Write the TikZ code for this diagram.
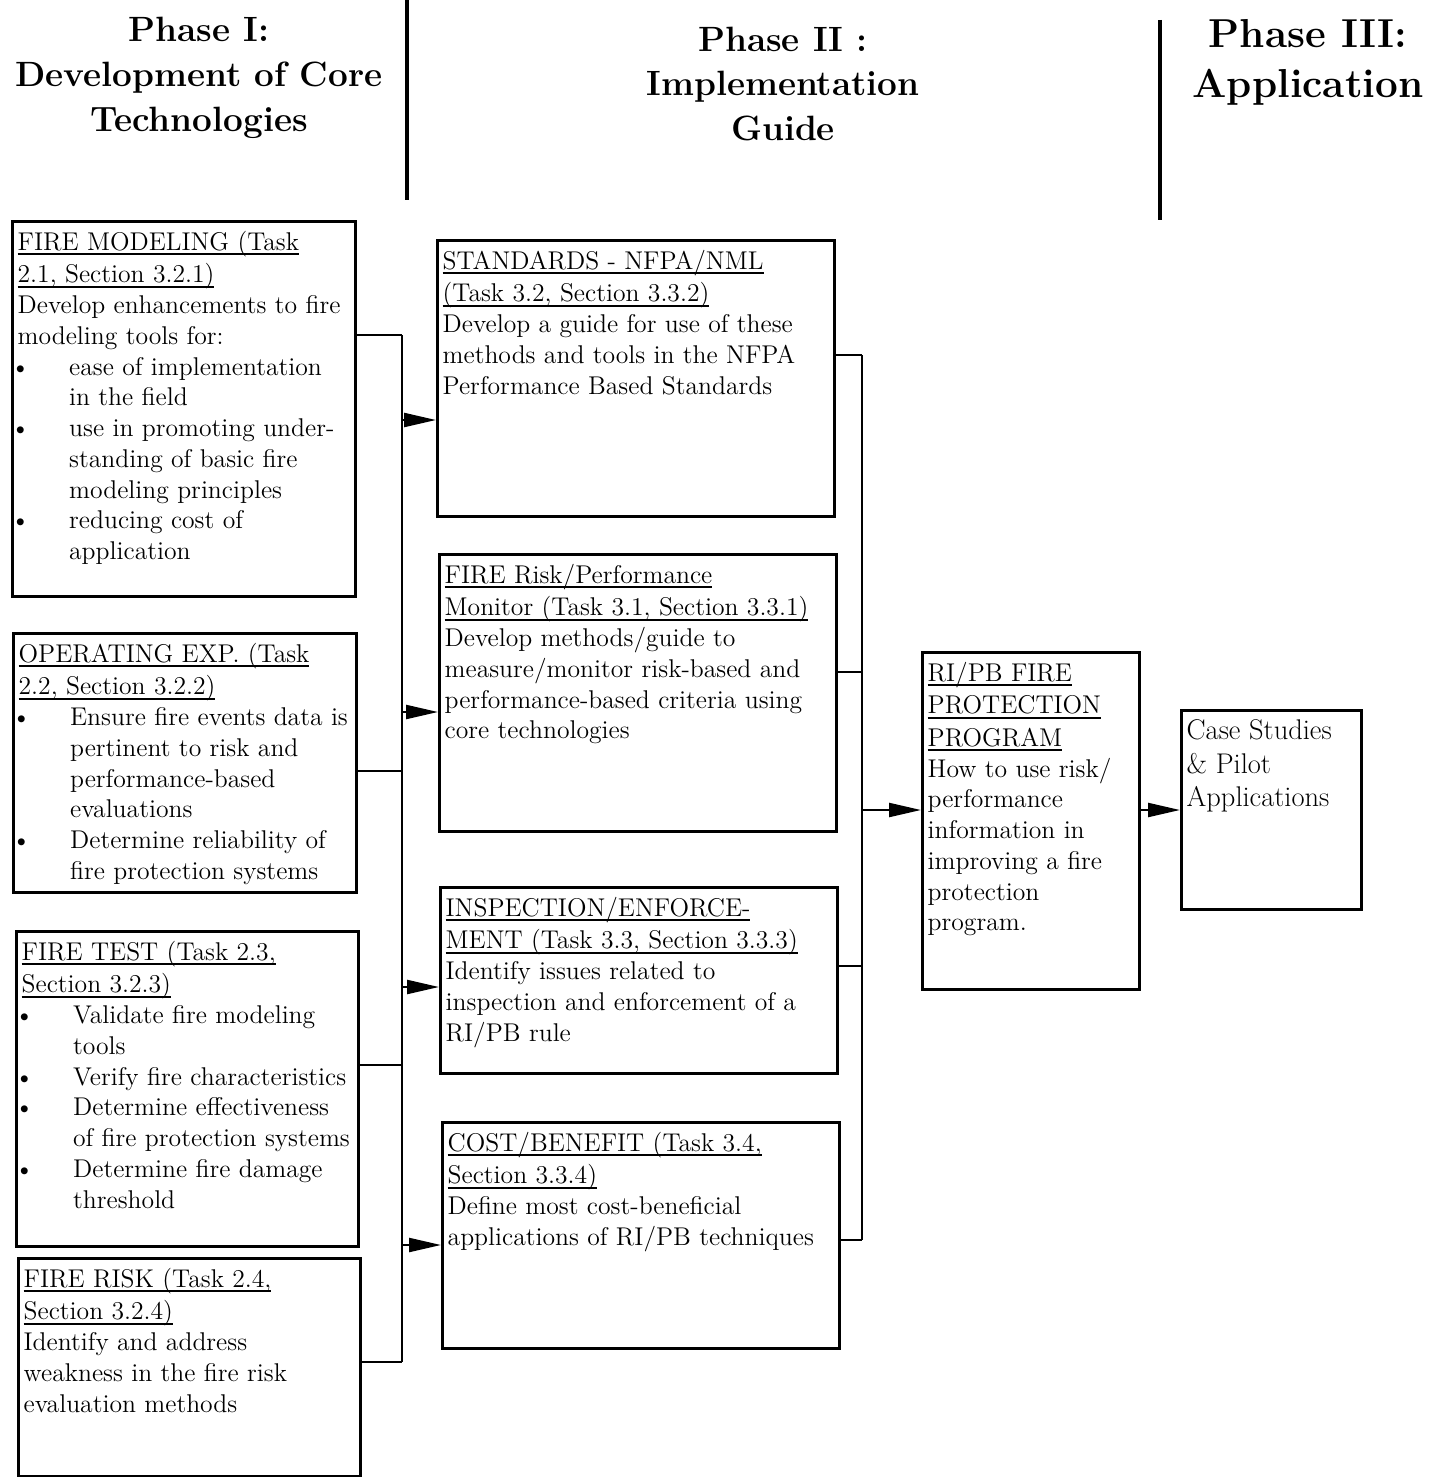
\documentclass[tikz,border=0pt]{standalone}
\usepackage{fontspec}
\usetikzlibrary{arrows.meta, positioning, calc}

\newcommand{\taskfont}{\fontsize{14.6}{17.5}\selectfont}
\newcommand{\casefont}{\fontsize{16.2}{18.8}\selectfont}
\newcommand{\phasefont}{\fontsize{20}{25.6}\selectfont\bfseries}
\newlength{\ulnwd}
\newcommand{\uln}[1]{\leavevmode\settowidth{\ulnwd}{#1}\rlap{\rule[-2.7pt]{\ulnwd}{0.9pt}}#1}
\newcommand{\bul}[1]{\par\noindent\hangindent=1.03cm\hangafter=1\makebox[1.03cm][l]{\hspace{-4pt}\textbullet}#1}
\newcommand{\taskbody}[3]{\parbox[t][#2][t]{#1}{\raggedright #3}}

\begin{document}
\begin{tikzpicture}[
    x=0.02cm, y=-0.02cm,
    taskbox/.style={draw, line width=1.6pt, anchor=north west, inner xsep=3pt, inner ysep=5.5pt, font=\taskfont},
    phase/.style={align=center, font=\phasefont},
    link/.style={line width=1.3pt},
    feed/.style={line width=1.3pt, -{Triangle[length=0.64cm, width=0.28cm]}},
    divider/.style={line width=2.2pt}
]
    \useasboundingbox (0,0) rectangle (1444,1477);

    % Phase headings
    \node[phase] (ph1) at (199,78) {Phase I:\\Development of Core\\Technologies};
    \node[phase] (ph2) at (783,84) {Phase II :\\Implementation\\Guide};
    \node[phase, font=\fontsize{23}{28.5}\selectfont\bfseries] (ph3) at (1308,62) {Phase III:\\Application};
    \draw[divider] (407,0) -- (407,200);
    \draw[divider] (1160,20) -- (1160,220);

    % Phase I: core technologies
    \node[taskbox] (fm) at (11,220) {\taskbody{6.65cm}{7.11cm}{%
        \uln{FIRE MODELING (Task}\\[1pt]
        \uln{2.1, Section 3.2.1)}\\
        Develop enhancements to fire\\
        modeling tools for:%
        \bul{ease of implementation\newline in the field}%
        \bul{use in promoting under-\newline standing of basic fire\newline modeling principles}%
        \bul{reducing cost of\newline application}}};
    \node[taskbox] (oe) at (12,632) {\taskbody{6.65cm}{4.79cm}{%
        \uln{OPERATING EXP. (Task}\\[1pt]
        \uln{2.2, Section 3.2.2)}%
        \bul{Ensure fire events data is\newline pertinent to risk and\newline performance-based\newline evaluations}%
        \bul{Determine reliability of\newline fire protection systems}}};
    \node[taskbox] (ft) at (15,930) {\taskbody{6.63cm}{5.91cm}{%
        \uln{FIRE TEST (Task 2.3,}\\[1pt]
        \uln{Section 3.2.3)}%
        \bul{Validate fire modeling\newline tools}%
        \bul{Verify fire characteristics}%
        \bul{Determine effectiveness\newline of fire protection systems}%
        \bul{Determine fire damage\newline threshold}}};
    \node[taskbox] (fr) at (17,1257) {\taskbody{6.63cm}{3.97cm}{%
        \uln{FIRE RISK (Task 2.4,}\\[1pt]
        \uln{Section 3.2.4)}\\
        Identify and address\\
        weakness in the fire risk\\
        evaluation methods}};

    % Phase II: implementation guide
    \node[taskbox] (std) at (436,239) {\taskbody{7.73cm}{5.13cm}{%
        \uln{STANDARDS - NFPA/NML}\\[1pt]
        \uln{(Task 3.2, Section 3.3.2)}\\
        Develop a guide for use of these\\
        methods and tools in the NFPA\\
        Performance Based Standards}};
    \node[taskbox] (frp) at (438,553) {\taskbody{7.73cm}{5.15cm}{%
        \uln{FIRE Risk/Performance}\\[1pt]
        \uln{Monitor (Task 3.1, Section 3.3.1)}\\
        Develop methods/guide to\\
        measure/monitor risk-based and\\
        performance-based criteria using\\
        core technologies}};
    \node[taskbox] (ie) at (439,886) {\taskbody{7.73cm}{3.33cm}{%
        \uln{INSPECTION/ENFORCE-}\\[1pt]
        \uln{MENT (Task 3.3, Section 3.3.3)}\\
        Identify issues related to\\
        inspection and enforcement of a\\
        RI/PB rule}};
    \node[taskbox] (cb) at (441,1121) {\taskbody{7.73cm}{4.13cm}{%
        \uln{COST/BENEFIT (Task 3.4,}\\[1pt]
        \uln{Section 3.3.4)}\\
        Define most cost-beneficial\\
        applications of RI/PB techniques}};

    % Program and Phase III
    \node[taskbox] (ri) at (921,651) {\taskbody{4.13cm}{6.35cm}{%
        \uln{RI/PB FIRE}\\[1pt]
        \uln{PROTECTION}\\[1pt]
        \uln{PROGRAM}\\
        How to use risk/\\
        performance\\
        information in\\
        improving a fire\\
        protection\\
        program.}};
    \node[taskbox, font=\casefont] (cs) at (1180,709) {\taskbody{3.39cm}{3.59cm}{%
        Case Studies\\
        \& Pilot\\
        Applications}};

    % Left collector
    \coordinate (lb1) at (402,335);
    \coordinate (lb2) at (402,771);
    \coordinate (lb3) at (402,1065);
    \coordinate (lb4) at (402,1362);
    \draw[link] (fm.east |- lb1) -- (lb1);
    \draw[link] (oe.east |- lb2) -- (lb2);
    \draw[link] (ft.east |- lb3) -- (lb3);
    \draw[link] (fr.east |- lb4) -- (lb4);
    \draw[link] (lb1) -- (lb4);
    \coordinate (la1) at (402,420);
    \coordinate (la2) at (402,712);
    \coordinate (la3) at (402,987);
    \coordinate (la4) at (402,1245);
    \draw[feed] (la1) -- (la1 -| std.west);
    \draw[feed] (la2) -- (la2 -| frp.west);
    \draw[feed] (la3) -- (la3 -| ie.west);
    \draw[feed] (la4) -- (la4 -| cb.west);

    % Right collector
    \coordinate (rb1) at (862,355);
    \coordinate (rb2) at (862,672);
    \coordinate (rb3) at (862,966);
    \coordinate (rb4) at (862,1240);
    \draw[link] (std.east |- rb1) -- (rb1);
    \draw[link] (frp.east |- rb2) -- (rb2);
    \draw[link] (ie.east |- rb3) -- (rb3);
    \draw[link] (cb.east |- rb4) -- (rb4);
    \draw[link] (rb1) -- (rb4);
    \coordinate (ra) at (862,810);
    \draw[feed] (ra) -- (ra -| ri.west);
    \draw[feed] (ri.east |- ra) -- (ra -| cs.west);
\end{tikzpicture}
\end{document}
